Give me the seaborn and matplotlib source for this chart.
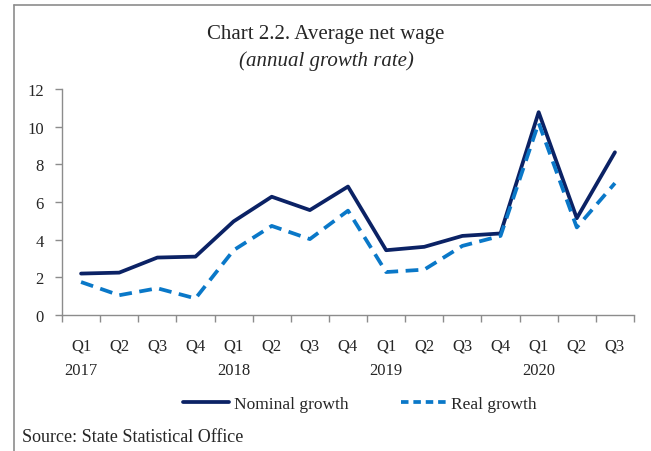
import matplotlib
matplotlib.use("Agg")
import matplotlib.pyplot as plt
from matplotlib.lines import Line2D
import seaborn as sns
import pandas as pd
import numpy as np

quarters = ["Q1", "Q2", "Q3", "Q4", "Q1", "Q2", "Q3", "Q4", "Q1", "Q2", "Q3", "Q4", "Q1", "Q2", "Q3"]
years = ["2017", "", "", "", "2018", "", "", "", "2019", "", "", "", "2020", "", ""]
nominal = [2.2, 2.25, 3.05, 3.1, 4.97, 6.28, 5.57, 6.82, 3.44, 3.62, 4.2, 4.33, 10.77, 5.14, 8.64]
real = [1.75, 1.05, 1.42, 0.88, 3.44, 4.73, 4.03, 5.54, 2.28, 2.41, 3.67, 4.2, 10.2, 4.65, 7.0]
series_names = ["Nominal growth", "Real growth"]
colors = ["#0b2265", "#0a78c8"]

sns.set_style("white")
plt.rcParams['font.family'] = ['Liberation Serif', 'DejaVu Serif']

idx = np.arange(len(quarters))
df = pd.DataFrame({
    "x": np.concatenate([idx, idx]),
    "value": nominal + real,
    "series": [series_names[0]] * len(nominal) + [series_names[1]] * len(real),
})

fig = plt.figure(figsize=(6.51, 4.52), dpi=100)
ax = fig.add_axes([62/651, 1-316/452, (634-62)/651, (316-90)/452])

sns.lineplot(data=df, x="x", y="value", hue="series", style="series",
             palette=dict(zip(series_names, colors)),
             dashes={series_names[0]: "", series_names[1]: (3.4, 2.0)},
             linewidth=2.7, ax=ax, legend=False)

ax.set_xlim(-0.5, len(quarters) - 0.5)
ax.set_ylim(0, 12)
ax.set_yticks(np.arange(0, 13, 2))
ax.set_xticks(idx)
ax.set_xticklabels([f"{q}\n{y}" for q, y in zip(quarters, years)], fontsize=12, linespacing=1.75)
ax.set_xticks(np.arange(-0.5, len(quarters), 1), minor=True)
ax.tick_params(axis="x", which="major", length=0, pad=16, bottom=True)
ax.tick_params(axis="x", which="minor", length=5, color="#8c8c8c", width=1, direction="out", bottom=True)
ax.tick_params(axis="y", length=5, color="#8c8c8c", width=1, direction="out", labelsize=12, pad=8, left=True)
for lab in ax.get_xticklabels():
    lab.set_verticalalignment("top")
ax.set_xlabel("")
ax.set_ylabel("")
for s in ["top", "right"]:
    ax.spines[s].set_visible(False)
for s in ["left", "bottom"]:
    ax.spines[s].set_color("#8c8c8c")
    ax.spines[s].set_linewidth(1)

fig.text(326/651, 1-35/452, "Chart 2.2. Average net wage", ha="center", va="center", fontsize=15)
fig.text(326/651, 1-61/452, "(annual growth rate)", ha="center", va="center", fontsize=15, style="italic")

handles = [Line2D([], [], color=colors[0], lw=2.7),
           Line2D([], [], color=colors[1], lw=2.7, dashes=(2.0, 1.3))]
fig.legend(handles, series_names, loc="center", bbox_to_anchor=(360/651, 1-405/452),
           ncol=2, frameon=False, fontsize=12.5, handlelength=2.6, handletextpad=0.3,
           columnspacing=3.0)

fig.text(22/651, 1-438/452, "Source: State Statistical Office", ha="left", va="center", fontsize=13)

fig.add_artist(Line2D([14/651, 14/651], [0, 1-6/452], color="#8c8c8c", lw=1.2))
fig.add_artist(Line2D([14/651, 1], [1-6/452, 1-6/452], color="#8c8c8c", lw=1.2))

fig.savefig("out.png", dpi=100)
